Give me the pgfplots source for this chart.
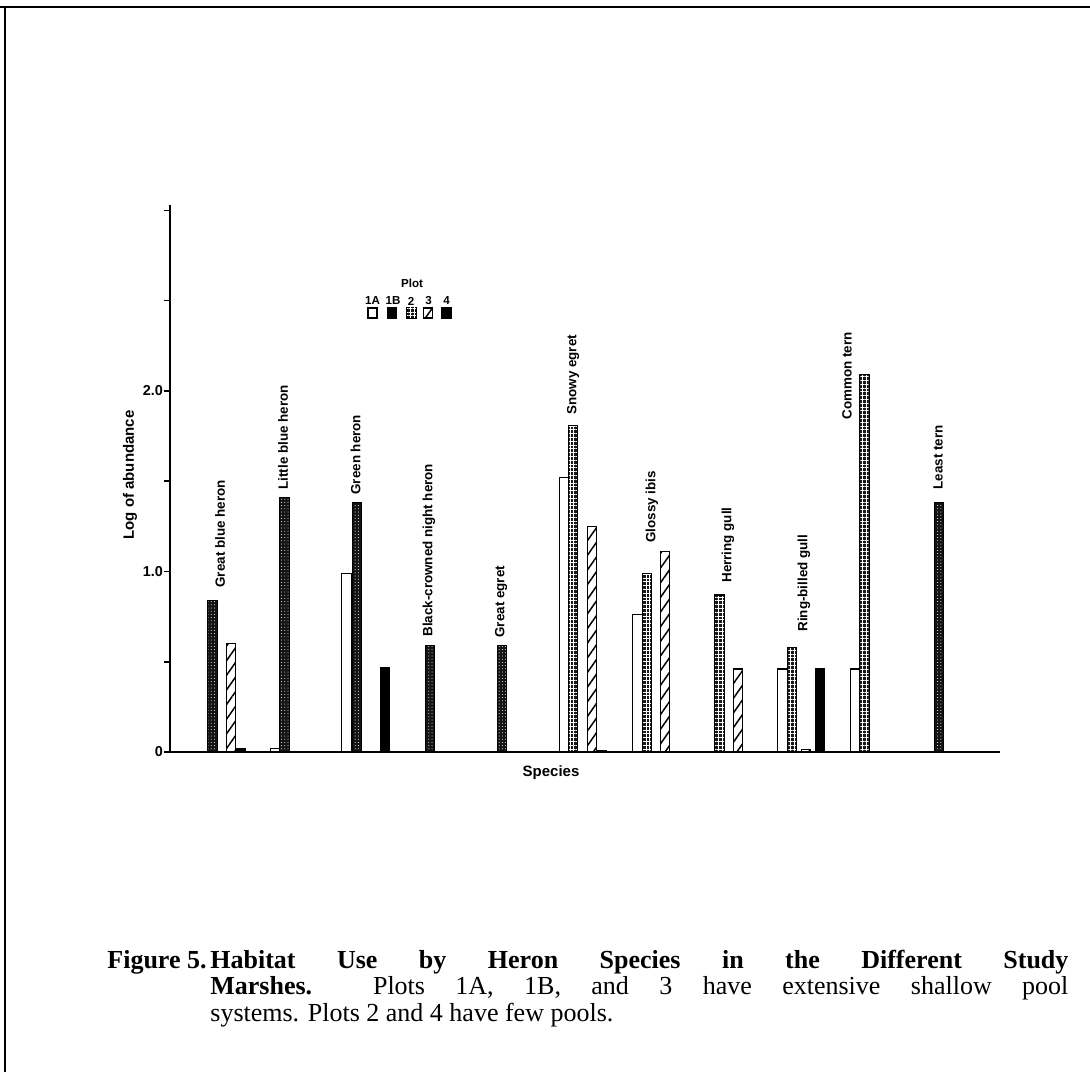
\documentclass[border=0pt]{standalone}
\usepackage{fontspec}
\setmainfont{Liberation Serif}
\newfontfamily\chartsans{Liberation Sans}
\usepackage{pgfplots}
\pgfplotsset{compat=1.18}
\usetikzlibrary{patterns.meta}

\tikzset{
  p1A/.style={fill=white, draw=black, line width=0.6pt},
  p1B/.style={fill=black!92, draw=black, line width=0.6pt,
     postaction={pattern color=white, pattern={Dots[distance=1.6pt, radius=0.25pt]}}},
  p2/.style={fill=black!90, draw=black, line width=0.6pt,
     postaction={pattern color=white, pattern={Hatch[angle=0, distance=1.9pt, line width=0.38pt]}}},
  p3/.style={fill=white, draw=black, line width=0.6pt,
     postaction={pattern color=black, pattern={Lines[angle=55, distance=4.2pt, line width=0.75pt]}}},
  p4/.style={fill=black, draw=black, line width=0.6pt},
  sp/.style={rotate=90, anchor=west, inner sep=0pt, font=\chartsans\bfseries\fontsize{6.7}{7}\selectfont},
}

\begin{document}
\begin{tikzpicture}
\useasboundingbox (0pt,0pt) rectangle (545pt,536pt);
% frame of the scanned page
\draw[line width=1.2pt] (0pt,532.5pt) -- (545pt,532.5pt);
\draw[line width=1.0pt] (2.5pt,532.5pt) -- (2.5pt,0pt);

\begin{axis}[
  at={(85pt,160pt)}, anchor=south west,
  scale only axis, width=415pt, height=273.5pt,
  xmin=170, xmax=1000, ymin=0, ymax=3.03,
  axis x line*=bottom, axis y line*=left,
  axis line style={line width=1.1pt},
  xtick=\empty,
  ytick={0,1,2}, yticklabels={0,1.0,2.0},
  minor ytick={0.5,1.5,2.5,3.0},
  tick align=outside, major tick length=3pt, minor tick length=3pt,
  tick style={line width=0.8pt, black},
  yticklabel style={font=\chartsans\bfseries\fontsize{7.2}{8}\selectfont, xshift=3pt},
  /pgf/number format/assume math mode=true,
  clip=false,
]
% Plot 1A
\addplot[ybar, bar width=9.5, bar shift=0pt, p1A] coordinates {
 (275.5,0.02) (346.5,0.99) (564,1.52) (637.5,0.76) (782.5,0.46) (855.5,0.46)};
% Plot 1B
\addplot[ybar, bar width=9.5, bar shift=0pt, p1B] coordinates {
 (212.5,0.84) (284.5,1.41) (357,1.38) (430,0.59) (502,0.59) (939,1.38)};
% Plot 2
\addplot[ybar, bar width=9.5, bar shift=0pt, p2] coordinates {
 (573,1.81) (647,0.99) (719.5,0.87) (792,0.58) (864.5,2.09)};
% Plot 3
\addplot[ybar, bar width=9.5, bar shift=0pt, p3] coordinates {
 (231,0.60) (592,1.25) (665,1.11) (738,0.46) (806,0.012)};
% Plot 4
\addplot[ybar, bar width=9.5, bar shift=0pt, p4] coordinates {
 (241,0.02) (385,0.47) (602,0.01) (820,0.46)};

\node[sp] at (axis cs:220,0.909) {Great blue heron};
\node[sp] at (axis cs:283,1.452) {Little blue heron};
\node[sp] at (axis cs:355.5,1.424) {Green heron};
\node[sp] at (axis cs:429,0.637) {Black-crowned night heron};
\node[sp] at (axis cs:501,0.632) {Great egret};
\node[sp] at (axis cs:573,1.867) {Snowy egret};
\node[sp] at (axis cs:652,1.158) {Glossy ibis};
\node[sp] at (axis cs:728,0.936) {Herring gull};
\node[sp] at (axis cs:804,0.665) {Ring-billed gull};
\node[sp] at (axis cs:847,1.839) {Common tern};
\node[sp] at (axis cs:938,1.452) {Least tern};
\end{axis}

% axis titles
\node[rotate=90, font=\chartsans\bfseries\fontsize{7.5}{8}\selectfont] at (65pt,298.5pt) {Log of abundance};
\node[font=\chartsans\bfseries\fontsize{7.5}{8}\selectfont] at (275.5pt,149.5pt) {Species};

% legend
\begin{scope}[font=\chartsans\bfseries\fontsize{5.8}{6}\selectfont]
\node at (206pt,394.5pt) {Plot};
\node at (186.3pt,385.5pt) {1A};
\node at (196.5pt,385.5pt) {1B};
\node at (205.5pt,385.5pt) {2};
\node at (214.3pt,385.5pt) {3};
\node at (223.3pt,385.5pt) {4};
\draw[p1A, line width=0.8pt] (184pt,377pt) rectangle ++(4.5pt,5pt);
\draw[p4, line width=0.8pt] (193.8pt,377pt) rectangle ++(4.5pt,5pt);
\draw[p2, line width=0.8pt] (203.5pt,377pt) rectangle ++(4.5pt,5pt);
\draw[p3, line width=0.8pt] (211.8pt,377pt) rectangle ++(4.5pt,5pt);
\draw[p4, line width=0.8pt] (221pt,377pt) rectangle ++(4.5pt,5pt);
\end{scope}

% caption
\node[anchor=base west, inner sep=0pt] at (53.5pt,52pt) {\fontsize{13}{13.3}\selectfont
  \makebox[51.5pt][l]{\bfseries Figure 5.}\parbox[t]{429pt}{\fontsize{13}{13.3}\selectfont
  \bfseries Habitat Use by Heron Species in the Different Study\linebreak
  Marshes.\mdseries\ \ Plots 1A, 1B, and 3 have extensive shallow pool\linebreak
  systems. Plots 2 and 4 have few pools.}};
\end{tikzpicture}
\end{document}
